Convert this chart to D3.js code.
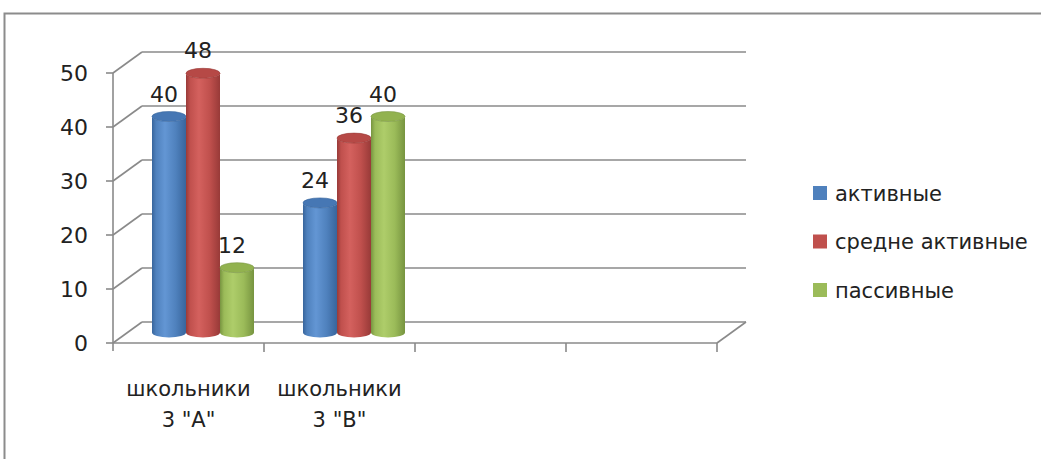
<!DOCTYPE html>
<html>
<head>
<meta charset="utf-8">
<script src="https://cdn.jsdelivr.net/npm/d3@7"></script>
<style>
  html, body { margin: 0; padding: 0; background: #fff; }
  svg { display: block; font-family: "DejaVu Sans", sans-serif; }
</style>
</head>
<body>
<svg id="chart" width="1041" height="459"></svg>
<script>
// chart data
const categories = ['школьники 3 "А"', 'школьники 3 "В"', 'c3', 'c4'];
const catLines = [['школьники', '3 "А"'], ['школьники', '3 "В"'], [], []];
const seriesNames = ['активные', 'средне активные', 'пассивные'];
const activeVals = [40, 24];
const midVals = [48, 36];
const passiveVals = [12, 40];
const yTicks = [0, 10, 20, 30, 40, 50];

const seriesColors = [
  { base: '#4f81bd', light: '#6396d4', dark: '#38659c', top: '#4677b4' },
  { base: '#c0504d', light: '#d4615e', dark: '#983a38', top: '#b64946' },
  { base: '#9bbb59', light: '#aecd6a', dark: '#779440', top: '#92b24f' }
];

const svg = d3.select('#chart');

// outer frame
svg.append('rect')
  .attr('x', 4.5).attr('y', 13.5)
  .attr('width', 1060).attr('height', 460)
  .attr('fill', 'none').attr('stroke', '#8c8c8c').attr('stroke-width', 2);

// front plane scales + depth offset for the 3d look
const y = d3.scaleLinear().domain([0, 50]).range([343, 73]);
const x = d3.scaleBand().domain(categories).range([113, 717]).padding(0);
const depth = { dx: 29, dy: -21 };
const barDepth = 0.5;
const groupW = 102;
const xs = d3.scaleBand().domain(d3.range(seriesNames.length)).range([0, groupW]);

const grid = svg.append('g').attr('stroke', '#8a8a8a').attr('stroke-width', 1.6).attr('fill', 'none');

// back wall gridlines + diagonals from front axis
yTicks.forEach(t => {
  const yf = y(t);
  grid.append('line')
    .attr('x1', 113).attr('y1', yf)
    .attr('x2', 113 + depth.dx).attr('y2', yf + depth.dy);
  grid.append('line')
    .attr('x1', 113 + depth.dx).attr('y1', yf + depth.dy)
    .attr('x2', 717 + depth.dx).attr('y2', yf + depth.dy);
  grid.append('line')
    .attr('x1', 106).attr('y1', yf).attr('x2', 113).attr('y2', yf);
});

// floor front edge and right edge
grid.append('line').attr('x1', 113).attr('y1', y(0)).attr('x2', 717).attr('y2', y(0));
grid.append('line').attr('x1', 717).attr('y1', y(0)).attr('x2', 717 + depth.dx).attr('y2', y(0) + depth.dy);
// vertical axis
grid.append('line').attr('x1', 113).attr('y1', y(50)).attr('x2', 113).attr('y2', y(0) + 8);
// category ticks
categories.forEach(c => {
  const xe = x(c) + x.bandwidth();
  grid.append('line').attr('x1', xe).attr('y1', y(0)).attr('x2', xe).attr('y2', y(0) + 9);
});

// y labels
svg.append('g').selectAll('text')
  .data(yTicks).enter().append('text')
  .attr('x', 88).attr('y', d => y(d))
  .attr('dy', '0.36em')
  .attr('text-anchor', 'end')
  .attr('font-size', 22).attr('fill', '#222')
  .text(d => d);

// category labels
catLines.forEach((lines, i) => {
  const cx = x(categories[i]) + x.bandwidth() / 2;
  lines.forEach((ln, j) => {
    svg.append('text')
      .attr('x', cx).attr('y', 396 + j * 31)
      .attr('text-anchor', 'middle')
      .attr('font-size', 21).attr('fill', '#222')
      .text(ln);
  });
});

// gradients for cylinders
const defs = svg.append('defs');
seriesColors.forEach((c, i) => {
  const g = defs.append('linearGradient').attr('id', 'cyl' + i)
    .attr('x1', '0%').attr('x2', '100%').attr('y1', '0%').attr('y2', '0%');
  g.append('stop').attr('offset', '0%').attr('stop-color', c.dark);
  g.append('stop').attr('offset', '12%').attr('stop-color', c.base);
  g.append('stop').attr('offset', '38%').attr('stop-color', c.light);
  g.append('stop').attr('offset', '70%').attr('stop-color', c.base);
  g.append('stop').attr('offset', '100%').attr('stop-color', c.dark);
});

const rows = [];
categories.slice(0, 2).forEach((c, ci) => {
  [activeVals, midVals, passiveVals].forEach((vals, si) => {
    rows.push({ cat: c, s: si, v: vals[ci] });
  });
});

const ry = 5;
const bars = svg.append('g');
rows.forEach(d => {
  const left = x(d.cat) + (x.bandwidth() - groupW) / 2 + xs(d.s) + depth.dx * barDepth;
  const w = xs.bandwidth();
  const rx = w / 2;
  const cx = left + rx;
  const yb = y(0) + depth.dy * barDepth;
  const yt = y(d.v) + depth.dy * barDepth;
  const c = seriesColors[d.s];
  bars.append('path')
    .attr('d', `M${left},${yt} L${left},${yb} A${rx},${ry} 0 0 0 ${left + w},${yb} L${left + w},${yt} A${rx},${ry} 0 0 1 ${left},${yt} Z`)
    .attr('fill', `url(#cyl${d.s})`);
  bars.append('ellipse')
    .attr('cx', cx).attr('cy', yt).attr('rx', rx).attr('ry', ry)
    .attr('fill', c.top).attr('stroke', c.dark).attr('stroke-width', 0.6);
  svg.append('text')
    .attr('x', cx - 5).attr('y', yt - 15)
    .attr('text-anchor', 'middle')
    .attr('font-size', 22).attr('fill', '#222')
    .text(d.v);
});

// legend
const legend = svg.append('g');
seriesNames.forEach((n, i) => {
  const ly = 193 + i * 48.5;
  legend.append('rect')
    .attr('x', 813).attr('y', ly - 7).attr('width', 14).attr('height', 14)
    .attr('fill', seriesColors[i].base);
  legend.append('text')
    .attr('x', 835).attr('y', ly).attr('dy', '0.36em')
    .attr('font-size', 21).attr('fill', '#222')
    .text(n);
});
</script>
</body>
</html>
